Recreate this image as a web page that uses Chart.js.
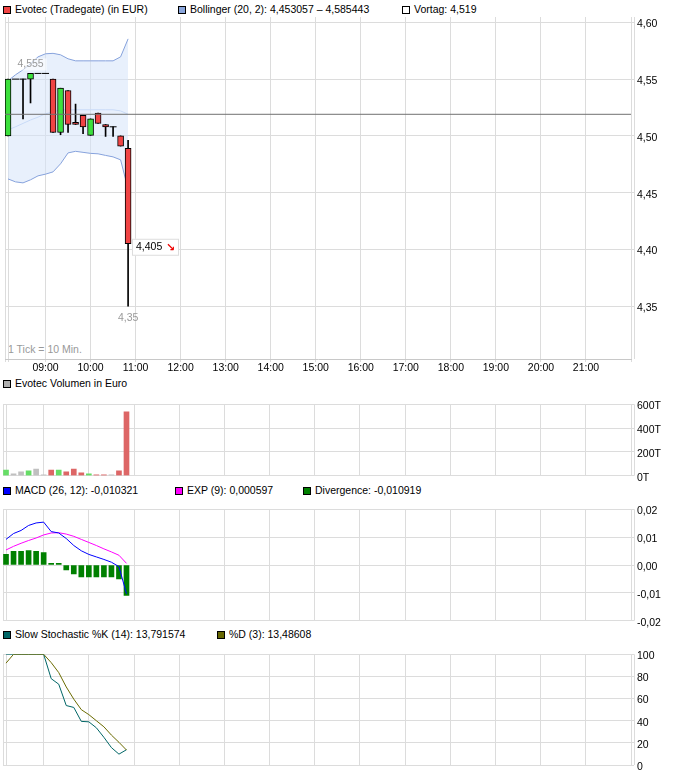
<!DOCTYPE html>
<html>
<head>
<meta charset="utf-8">
<script src="https://cdn.jsdelivr.net/npm/chart.js@4/dist/chart.umd.min.js"></script>
<style>
body { margin: 0; background: #fff; width: 681px; height: 776px; position: relative; overflow: hidden;
       font-family: "Liberation Sans", Arial, sans-serif; font-size: 10.5px; color: #000; }
canvas { position: absolute; left: 0; }
.lg { position: absolute; white-space: nowrap; line-height: 12px; }
.bx { display: inline-block; width: 6px; height: 6px; border: 1px solid #000; vertical-align: -1px; margin-right: 4px; }
</style>
</head>
<body>
<div class="lg" style="left:3px;top:3px"><span class="bx" style="background:#f04444"></span>Evotec (Tradegate) (in EUR)</div>
<div class="lg" style="left:178px;top:3px"><span class="bx" style="background:#8aa6dc"></span>Bollinger (20, 2): 4,453057 – 4,585443</div>
<div class="lg" style="left:402px;top:3px"><span class="bx" style="background:#fff"></span>Vortag: 4,519</div>
<div class="lg" style="left:3px;top:377px"><span class="bx" style="background:#b0b0b0"></span>Evotec Volumen in Euro</div>
<div class="lg" style="left:3px;top:484px"><span class="bx" style="background:#0000ff"></span>MACD (26, 12): -0,010321</div>
<div class="lg" style="left:175px;top:484px"><span class="bx" style="background:#ff00ff"></span>EXP (9): 0,000597</div>
<div class="lg" style="left:303px;top:484px"><span class="bx" style="background:#008000"></span>Divergence: -0,010919</div>
<div class="lg" style="left:3px;top:628px"><span class="bx" style="background:#006666"></span>Slow Stochastic %K (14): 13,791574</div>
<div class="lg" style="left:217px;top:628px"><span class="bx" style="background:#666600"></span>%D (3): 13,48608</div>
<div class="lg" style="left:8px;top:343px;color:#999">1 Tick = 10 Min.</div>

<canvas id="cMain" width="681" height="380" style="top:0"></canvas>
<canvas id="cVol" width="681" height="90" style="top:395px"></canvas>
<canvas id="cMacd" width="681" height="130" style="top:500px"></canvas>
<canvas id="cStoch" width="681" height="131" style="top:645px"></canvas>

<script>
// 10-minute candles
const times = ['08:10', '08:20', '08:30', '08:40', '08:50', '09:00', '09:10', '09:20', '09:30',
               '09:40', '09:50', '10:00', '10:10', '10:20', '10:30', '10:40', '10:50'];
const open  = [4.50, 4.55, 4.55, 4.55, 4.555, 4.555, 4.55, 4.503, 4.54, 4.512, 4.518, 4.5005, 4.52, 4.51, 4.508, 4.50, 4.489];
const high  = [4.55, 4.55, 4.55, 4.555, 4.555, 4.555, 4.55, 4.542, 4.54, 4.528, 4.518, 4.515, 4.52, 4.51, 4.508, 4.50, 4.496];
const low   = [4.50, 4.55, 4.515, 4.529, 4.555, 4.555, 4.503, 4.501, 4.503, 4.51, 4.502, 4.5005, 4.511, 4.4995, 4.4995, 4.491, 4.35];
const close = [4.55, 4.55, 4.55, 4.555, 4.555, 4.555, 4.503, 4.542, 4.51, 4.51, 4.508, 4.515, 4.511, 4.508, 4.508, 4.491, 4.405];
const vortag = 4.519;

// Bollinger (20, 2)
const bbUpper  = [4.5485, 4.5538, 4.5582, 4.5635, 4.5696, 4.5723, 4.5727, 4.5714, 4.5679, 4.5661, 4.5661, 4.5661, 4.5661, 4.5661, 4.5661, 4.5696, 4.585443];
const bbMiddle = [4.5053, 4.508, 4.511, 4.514, 4.5165, 4.5195, 4.521, 4.523, 4.523, 4.523, 4.523, 4.523, 4.523, 4.523, 4.523, 4.522, 4.519];
const bbLower  = [4.4621, 4.4595, 4.4586, 4.4613, 4.4648, 4.4663, 4.4683, 4.4754, 4.485, 4.4864, 4.4855, 4.4846, 4.4842, 4.4828, 4.4815, 4.4789, 4.453057];

// volume in euro
const volume = [48000, 16000, 32000, 40000, 56000, 8000, 48000, 48000, 32000, 56000, 24000, 16000, 8000, 8000, 8000, 40000, 536000];

// MACD (26, 12), EXP (9), divergence
const macd   = [0.0092, 0.0113, 0.0124, 0.0142, 0.0151, 0.0154, 0.0120, 0.0115, 0.0095, 0.0070, 0.0051, 0.0038, 0.0029, 0.0020, 0.0010, -0.0006, -0.010321];
const signal = [0.0054, 0.0067, 0.0078, 0.0088, 0.0097, 0.0108, 0.0115, 0.0116, 0.0111, 0.0103, 0.0092, 0.0081, 0.0070, 0.0058, 0.0047, 0.0035, 0.000597];
const diverg = [0.0038, 0.0049, 0.0049, 0.0052, 0.0049, 0.0045, 0.0006, 0.0006, -0.0018, -0.0032, -0.0043, -0.0043, -0.0043, -0.0043, -0.0043, -0.0050, -0.010919];

// slow stochastic
const stochK = [100, 100, 100, 100, 100, 100, 78, 73, 53.7, 52, 39.4, 39, 33.6, 25, 15.7, 9.8, 13.791574];
const stochD = [92, 100, 100, 100, 100, 100, 92.5, 83.5, 70.5, 59.5, 50, 45.5, 40, 34.5, 27, 20.5, 13.48608];

// axis ticks
const hourLabels  = ['09:00', '10:00', '11:00', '12:00', '13:00', '14:00', '15:00', '16:00', '17:00', '18:00', '19:00', '20:00', '21:00'];
const priceTicks  = [4.35, 4.40, 4.45, 4.50, 4.55, 4.60];
const volumeTicks = [0, 200000, 400000, 600000];
const macdTicks   = [-0.02, -0.01, 0, 0.01, 0.02];
const stochTicks  = [0, 20, 40, 60, 80, 100];

const FONT = '10.5px "Liberation Sans", Arial, sans-serif';
const GRID = '#dcdcdc';
const X_MIN = 8.1, X_MAX = 22;

const toHour = t => { const [h, m] = t.split(':'); return +h + m / 60; };
const xs = times.map(toHour);
const xTicks = [X_MIN, xs[0], ...hourLabels.map(toHour), X_MAX];
const comma = v => String(v).replace('.', ',');

function xScale(withLabels) {
  return {
    type: 'linear', min: X_MIN, max: X_MAX, offset: false,
    afterBuildTicks: s => { s.ticks = xTicks.map(v => ({ value: v })); },
    afterFit: s => { s.height = withLabels ? 21 : 0; },
    grid: { color: GRID, offset: false, drawTicks: withLabels, tickLength: 3 },
    border: { display: withLabels, color: '#c8c8c8' },
    ticks: {
      display: withLabels, autoSkip: false, maxRotation: 0, padding: 0, color: '#000',
      font: { family: '"Liberation Sans", Arial, sans-serif', size: 10.5 },
      callback: v => hourLabels.find(h => Math.abs(toHour(h) - v) < 1e-6) || ''
    }
  };
}

function yScale(min, max, ticks, fmt) {
  return {
    position: 'right', min: min, max: max, beginAtZero: false,
    afterBuildTicks: s => { s.ticks = ticks.map(v => ({ value: v })); },
    afterFit: s => { s.width = 50; },
    grid: { color: GRID, tickLength: 3 },
    border: { display: false },
    ticks: { padding: 3, labelOffset: 2, color: '#000',
             font: { family: '"Liberation Sans", Arial, sans-serif', size: 10.5 }, callback: fmt }
  };
}

// second thin frame line right of the tick marks
const rightFrame = {
  id: 'rightFrame',
  afterDraw(chart) {
    const { ctx, chartArea } = chart;
    ctx.save();
    ctx.strokeStyle = GRID;
    ctx.lineWidth = 1;
    ctx.beginPath();
    ctx.moveTo(chartArea.right + 3.5, chartArea.top);
    ctx.lineTo(chartArea.right + 3.5, chartArea.bottom);
    ctx.stroke();
    ctx.restore();
  }
};

// day high / low / last price markers
const priceMarks = {
  id: 'priceMarks',
  afterDatasetsDraw(chart) {
    const { ctx, scales: { x, y } } = chart;
    const hi = Math.max(...high), iH = high.indexOf(hi);
    const lo = Math.min(...low), iL = low.indexOf(lo);
    const iC = close.length - 1, last = close[iC];
    ctx.save();
    ctx.font = FONT;
    ctx.textAlign = 'center';
    ctx.textBaseline = 'middle';

    let px = x.getPixelForValue(xs[iH]), py = y.getPixelForValue(hi) - 9;
    let w = ctx.measureText(comma(hi)).width + 6;
    ctx.fillStyle = 'rgba(255,255,255,0.6)';
    ctx.fillRect(px - w / 2, py - 6, w, 12);
    ctx.fillStyle = '#999';
    ctx.fillText(comma(hi), px, py);

    px = x.getPixelForValue(xs[iL]);
    py = y.getPixelForValue(lo) + 12;
    ctx.fillText(comma(lo), px, py);

    px = Math.round(x.getPixelForValue(xs[iC])) + 4;
    py = y.getPixelForValue(last);
    ctx.fillStyle = '#fff';
    ctx.fillRect(px, py - 5, 47, 17);
    ctx.strokeStyle = '#ddd';
    ctx.strokeRect(px + 0.5, py - 4.5, 46, 16);
    ctx.textAlign = 'left';
    ctx.fillStyle = '#000';
    ctx.fillText(comma(last), px + 4, py + 3.5);
    ctx.fillStyle = '#ee0000';
    ctx.font = 'bold 11px "DejaVu Sans", sans-serif';
    ctx.fillText('\u2198', px + 34, py + 4);
    ctx.restore();
  }
};

const baseOptions = (pad) => ({
  responsive: false, animation: false, devicePixelRatio: 1,
  layout: { padding: pad },
  plugins: { legend: { display: false }, tooltip: { enabled: false } },
  events: []
});

const upColor = '#3ce03c', downColor = '#f04444';
const bodyIdx = xs.map((x, i) => i).filter(i => open[i] !== close[i]);
const dojiIdx = xs.map((x, i) => i).filter(i => open[i] === close[i]);
const wickIdx = xs.map((x, i) => i).filter(i => high[i] > low[i]);

// main price chart
new Chart(document.getElementById('cMain'), {
  type: 'bar',
  data: {
    datasets: [
      { type: 'line', data: [{ x: X_MIN, y: vortag }, { x: X_MAX, y: vortag }],
        borderColor: '#707070', borderWidth: 1, pointRadius: 0, order: -1 },
      { type: 'bar', data: bodyIdx.map(i => ({ x: xs[i], y: [open[i], close[i]] })),
        backgroundColor: bodyIdx.map(i => close[i] > open[i] ? upColor : downColor),
        borderColor: '#000', borderWidth: 1, borderSkipped: false, barThickness: 6, grouped: false, order: 1 },
      { type: 'line', data: dojiIdx.map(i => ({ x: xs[i], y: open[i] })), showLine: false,
        pointStyle: 'line', pointRadius: 3.5, borderColor: '#000', borderWidth: 1, order: 1 },
      { type: 'bar', data: wickIdx.map(i => ({ x: xs[i], y: [low[i], high[i]] })),
        backgroundColor: '#000', borderWidth: 0, barThickness: 1, grouped: false, order: 2 },
      { type: 'line', data: xs.map((x, i) => ({ x, y: bbUpper[i] })),
        borderColor: '#86a2dc', borderWidth: 1, pointRadius: 0, fill: false, order: 3 },
      { type: 'line', data: xs.map((x, i) => ({ x, y: bbLower[i] })),
        borderColor: '#86a2dc', borderWidth: 1, pointRadius: 0, fill: '-1',
        backgroundColor: 'rgba(214,228,250,0.55)', order: 3 },
      { type: 'line', data: xs.map((x, i) => ({ x, y: bbMiddle[i] })),
        borderColor: '#b8cff5', borderWidth: 1, pointRadius: 0, fill: false, order: 3 }
    ]
  },
  options: Object.assign(baseOptions({ top: 17, left: 3, right: 0, bottom: 0 }), {
    scales: {
      x: xScale(true),
      y: yScale(4.3035, 4.6047, priceTicks, v => v.toFixed(2).replace('.', ','))
    }
  }),
  plugins: [rightFrame, priceMarks]
});

// volume
new Chart(document.getElementById('cVol'), {
  type: 'bar',
  data: {
    datasets: [{
      data: xs.map((x, i) => ({ x, y: volume[i] })),
      backgroundColor: xs.map((x, i) => close[i] > open[i] ? '#66dd66' : close[i] < open[i] ? '#dd6666' : '#c0c0c0'),
      barThickness: 5, grouped: false, borderWidth: 0
    }]
  },
  options: Object.assign(baseOptions({ top: 7, left: 3, right: 0, bottom: 8 }), {
    scales: {
      x: xScale(false),
      y: yScale(0, 600000, volumeTicks, v => (v / 1000) + 'T')
    }
  }),
  plugins: [rightFrame]
});

// MACD
new Chart(document.getElementById('cMacd'), {
  type: 'bar',
  data: {
    datasets: [
      { type: 'line', data: xs.map((x, i) => ({ x, y: macd[i] })), borderColor: '#0000ff',
        borderWidth: 1, pointRadius: 0, tension: 0, order: 0 },
      { type: 'line', data: xs.map((x, i) => ({ x, y: signal[i] })), borderColor: '#ff00ff',
        borderWidth: 1, pointRadius: 0, tension: 0, order: 0 },
      { type: 'bar', data: xs.map((x, i) => ({ x, y: diverg[i] })), backgroundColor: '#008000',
        barThickness: 5, grouped: false, borderWidth: 0, order: 1 }
    ]
  },
  options: Object.assign(baseOptions({ top: 9, left: 3, right: 0, bottom: 9 }), {
    scales: {
      x: xScale(false),
      y: yScale(-0.02, 0.02, macdTicks, v => v.toFixed(2).replace('.', ','))
    }
  }),
  plugins: [rightFrame]
});

// slow stochastic
new Chart(document.getElementById('cStoch'), {
  type: 'line',
  data: {
    datasets: [
      { data: xs.map((x, i) => ({ x, y: stochD[i] })), borderColor: '#6b6b00', borderWidth: 1, pointRadius: 0, tension: 0 },
      { data: xs.map((x, i) => ({ x, y: stochK[i] })), borderColor: '#006666', borderWidth: 1, pointRadius: 0, tension: 0 }
    ]
  },
  options: Object.assign(baseOptions({ top: 8, left: 3, right: 0, bottom: 11 }), {
    scales: {
      x: xScale(false),
      y: yScale(0, 100, stochTicks, v => String(v))
    }
  }),
  plugins: [rightFrame]
});
</script>
</body>
</html>
